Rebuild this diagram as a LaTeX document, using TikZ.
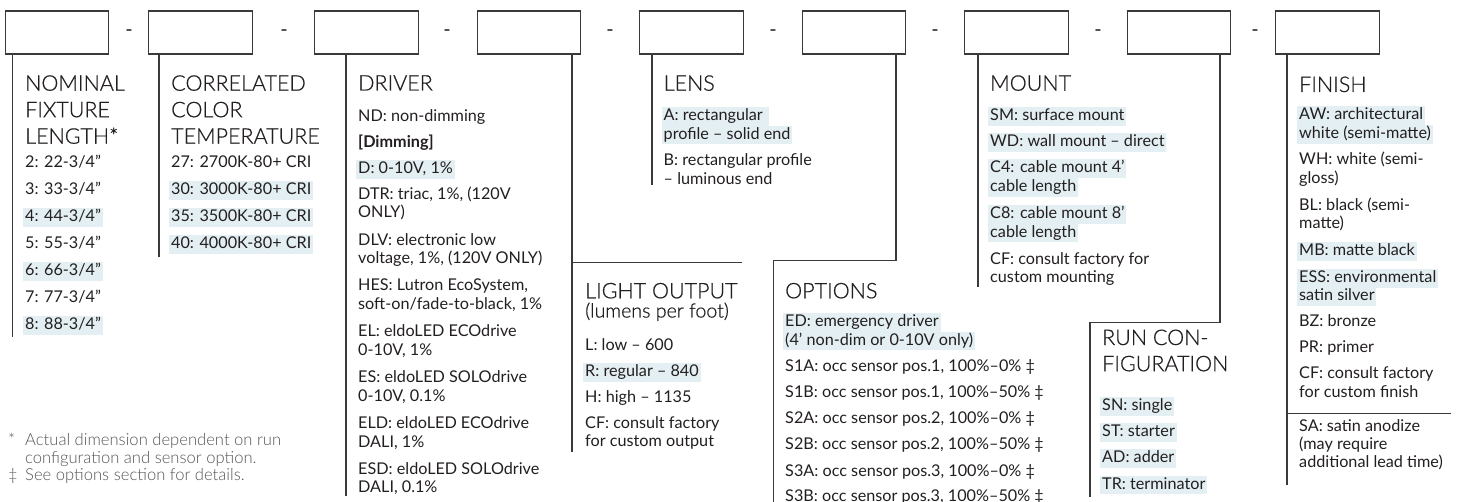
\documentclass[tikz,border=0pt]{standalone}
\usepackage{fontspec}
\setmainfont{Lato}
\newfontfamily\lightf{Lato Light}[FakeBold=0.6]
\newfontfamily\notef{Lato Light}
\definecolor{ink}{HTML}{231F20}
\definecolor{hlc}{HTML}{E3EFF2}
\definecolor{linec}{HTML}{3A3A3A}
\definecolor{notec}{HTML}{555555}
\tikzset{
  box/.style={draw=linec, line width=1.1pt, minimum width=103.5pt, minimum height=43pt, inner sep=0pt},
  lead/.style={draw=linec, line width=1.1pt},
  body/.style={anchor=base west, xshift=-1.8pt, inner xsep=1.8pt, inner ysep=0pt, text height=13.5pt, text depth=5.2pt, font=\fontsize{16.2}{18}\selectfont, text=ink},
  hl/.style={fill=hlc},
  head/.style={anchor=base west, inner sep=0pt, font=\lightf\fontsize{21.5}{26}\selectfont, text=ink},
  sub/.style={anchor=base west, inner sep=0pt, font=\lightf\fontsize{19.6}{22}\selectfont, text=ink},
  dashmark/.style={anchor=center, inner sep=0pt, font=\fontsize{20}{20}\selectfont, text=ink},
  note/.style={anchor=base west, inner sep=0pt, font=\notef\fontsize{16.6}{18}\selectfont, text=notec},
}
\newcommand\Tx[4]{\node[body] (#1) at (#2,#3) {#4};}
\newcommand\Hx[4]{\node[body,hl] (#1) at (#2,#3) {#4};}
\newcommand\Hd[4]{\node[head] (#1) at (#2,#3) {#4};}
\begin{document}
\begin{tikzpicture}[x=1pt,y=-1pt]
\fill[white] (0,0) rectangle (1464,502);
\useasboundingbox (0,0) rectangle (1464,502);

% boxes
\node[box] (b1) at (57,32.5) {};
\node[box] (b2) at (200.5,32.5) {};
\node[box] (b3) at (366.5,32.5) {};
\node[box] (b4) at (529,32.5) {};
\node[box] (b5) at (691.5,32.5) {};
\node[box] (b6) at (854,32.5) {};
\node[box] (b7) at (1016.5,32.5) {};
\node[box] (b8) at (1179,32.5) {};
\node[box] (b9) at (1327.5,32.5) {};

% dashes
\node[dashmark] (d1) at (129,33) {-};
\node[dashmark] (d2) at (284,33) {-};
\node[dashmark] (d3) at (447,33) {-};
\node[dashmark] (d4) at (610,33) {-};
\node[dashmark] (d5) at (773,33) {-};
\node[dashmark] (d6) at (935,33) {-};
\node[dashmark] (d7) at (1098,33) {-};
\node[dashmark] (d8) at (1255,33) {-};

% leader lines
\coordinate (e1) at (12.5,337);
\coordinate (e2) at (159,257);
\coordinate (e3) at (346,496);
\coordinate (e4) at (572,452);
\coordinate (h4a) at (572,262.3);
\coordinate (h4b) at (741.7,262.3);
\coordinate (e5) at (652,185);
\coordinate (e6a) at (896,260.7);
\coordinate (e6b) at (773.3,260.7);
\coordinate (e6c) at (773.3,510);
\coordinate (e7) at (978,287);
\coordinate (e8a) at (1220,322.5);
\coordinate (e8b) at (1090,322.5);
\coordinate (e8c) at (1090,497);
\coordinate (e9) at (1287,485);
\coordinate (h9a) at (1287,413.3);
\coordinate (h9b) at (1451,413.3);
\draw[lead] (b1.south -| e1) -- (e1);
\draw[lead] (b2.south -| e2) -- (e2);
\draw[lead] (b3.south -| e3) -- (e3);
\draw[lead] (b4.south -| e4) -- (e4);
\draw[lead] (h4a) -- (h4b);
\draw[lead] (b5.south -| e5) -- (e5);
\draw[lead] (b6.south -| e6a) -- (e6a) -- (e6b) -- (e6c);
\draw[lead] (b7.south -| e7) -- (e7);
\draw[lead] (b8.south -| e8a) -- (e8a) -- (e8b) -- (e8c);
\draw[lead] (b9.south -| e9) -- (e9);
\draw[lead] (h9a) -- (h9b);

% column 1: nominal fixture length
\Hd{h1a}{25}{90.7}{NOMINAL}
\Hd{h1b}{25}{117.2}{FIXTURE}
\Hd{h1c}{25}{143.7}{LENGTH*}
\Tx{a1}{25}{168}{2: 22-3/4”}
\Tx{a2}{25}{195}{3: 33-3/4”}
\Hx{a3}{25}{222}{4: 44-3/4”}
\Tx{a4}{25}{249}{5: 55-3/4”}
\Hx{a5}{25}{276}{6: 66-3/4”}
\Tx{a6}{25}{303}{7: 77-3/4”}
\Hx{a7}{25}{330}{8: 88-3/4”}

% column 2: CCT
\Hd{h2a}{171}{90.7}{CORRELATED}
\Hd{h2b}{171}{117.2}{COLOR}
\Hd{h2c}{171}{143.7}{TEMPERATURE}
\Tx{c1}{171}{168}{27: 2700K-80+ CRI}
\Hx{c2}{171}{195}{30: 3000K-80+ CRI}
\Hx{c3}{171}{222}{35: 3500K-80+ CRI}
\Hx{c4}{171}{249}{40: 4000K-80+ CRI}

% column 3: driver
\Hd{h3a}{358}{90.5}{DRIVER}
\Tx{r1}{358}{121.7}{ND: non-dimming}
\Tx{r2}{358}{147.6}{\bfseries [Dimming]}
\Hx{r3}{358}{173.5}{D: 0-10V, 1\%}
\Tx{r4a}{358}{199.4}{DTR: triac, 1\%, (120V}
\Tx{r4b}{358}{218}{ONLY)}
\Tx{r5a}{358}{245.2}{DLV: electronic low}
\Tx{r5b}{358}{263.8}{voltage, 1\%, (120V ONLY)}
\Tx{r6a}{358}{291}{HES: Lutron EcoSystem,}
\Tx{r6b}{358}{309.6}{soft-on/fade-to-black, 1\%}
\Tx{r7a}{358}{336.8}{EL: eldoLED ECOdrive}
\Tx{r7b}{358}{355.4}{0-10V, 1\%}
\Tx{r8a}{358}{382.6}{ES: eldoLED SOLOdrive}
\Tx{r8b}{358}{401.2}{0-10V, 0.1\%}
\Tx{r9a}{358}{428.4}{ELD: eldoLED ECOdrive}
\Tx{r9b}{358}{447}{DALI, 1\%}
\Tx{r10a}{358}{474.2}{ESD: eldoLED SOLOdrive}
\Tx{r10b}{358}{492.8}{DALI, 0.1\%}

% column 4: light output
\Hd{h4}{585}{298.3}{LIGHT OUTPUT}
\node[sub] (h4s) at (585,317.5) {(lumens per foot)};
\Tx{o1}{585}{351}{L: low – 600}
\Hx{o2}{585}{376.7}{R: regular – 840}
\Tx{o3}{585}{402.4}{H: high – 1135}
\Tx{o4a}{585}{428.1}{CF: consult factory}
\Tx{o4b}{585}{446.7}{for custom output}

% column 5: lens
\Hd{h5}{663.5}{90.7}{LENS}
\Hx{l1a}{663.5}{120.7}{A: rectangular\ \ }
\Hx{l1b}{663.5}{139.3}{profile – solid end}
\Tx{l2a}{663.5}{165.7}{B: rectangular profile}
\Tx{l2b}{663.5}{184.3}{– luminous end}

% column 6: options
\Hd{h6}{785}{298.3}{OPTIONS}
\Hx{p1a}{785}{326.5}{ED: emergency driver\ }
\Hx{p1b}{785}{345.1}{(4’ non-dim or 0-10V only)}
\Tx{p2}{785}{371.6}{S1A: occ sensor pos.1, 100\%–0\% ‡}
\Tx{p3}{785}{397.7}{S1B: occ sensor pos.1, 100\%–50\% ‡}
\Tx{p4}{785}{423.8}{S2A: occ sensor pos.2, 100\%–0\% ‡}
\Tx{p5}{785}{449.9}{S2B: occ sensor pos.2, 100\%–50\% ‡}
\Tx{p6}{785}{476}{S3A: occ sensor pos.3, 100\%–0\% ‡}
\Tx{p7}{785}{501.5}{S3B: occ sensor pos.3, 100\%–50\% ‡}

% column 7: mount
\Hd{h7}{990}{90.7}{MOUNT}
\Hx{m1}{990}{120.7}{SM: surface mount}
\Hx{m2}{990}{146.8}{WD: wall mount – direct}
\Hx{m3a}{990}{172.9}{C4: cable mount 4’\ }
\Hx{m3b}{990}{191.5}{cable length}
\Hx{m4a}{990}{218.6}{C8: cable mount 8’\ }
\Hx{m4b}{990}{237.2}{cable length}
\Tx{m5a}{990}{264.3}{CF: consult factory for}
\Tx{m5b}{990}{282.9}{custom mounting}

% column 8: run configuration
\Hd{h8a}{1102}{345}{RUN CON-}
\Hd{h8b}{1102}{371.2}{FIGURATION}
\Hx{n1}{1102}{410.7}{SN: single}
\Hx{n2}{1102}{436.8}{ST: starter}
\Hx{n3}{1102}{462.9}{AD: adder}
\Hx{n4}{1102}{489}{TR: terminator}

% column 9: finish
\Hd{h9}{1299}{92}{FINISH}
\Hx{f1a}{1299}{120}{AW: architectural}
\Hx{f1b}{1299}{138.6}{white (semi-matte)}
\Tx{f2a}{1299}{164.8}{WH: white (semi-}
\Tx{f2b}{1299}{183.4}{gloss)}
\Tx{f3a}{1299}{210.2}{BL: black (semi-}
\Tx{f3b}{1299}{228.8}{matte)}
\Hx{f4}{1299}{256}{MB: matte black}
\Hx{f5a}{1299}{282.4}{ESS: environmental}
\Hx{f5b}{1299}{301}{satin silver}
\Tx{f6}{1299}{327}{BZ: bronze}
\Tx{f7}{1299}{353}{PR: primer}
\Tx{f8a}{1299}{378.8}{CF: consult factory}
\Tx{f8b}{1299}{397.4}{for custom finish}
\Tx{f9a}{1299}{431.7}{SA: satin anodize}
\Tx{f9b}{1299}{449.5}{(may require}
\Tx{f9c}{1299}{467.3}{additional lead time)}

% footnotes
\node[note] (fn1s) at (8,445) {*};
\node[note] (fn1a) at (25,445) {Actual dimension dependent on run};
\node[note] (fn1b) at (25,463) {configuration and sensor option.};
\node[note] (fn2s) at (8,480.5) {‡};
\node[note] (fn2a) at (25,480.5) {See options section for details.};
\end{tikzpicture}
\end{document}
